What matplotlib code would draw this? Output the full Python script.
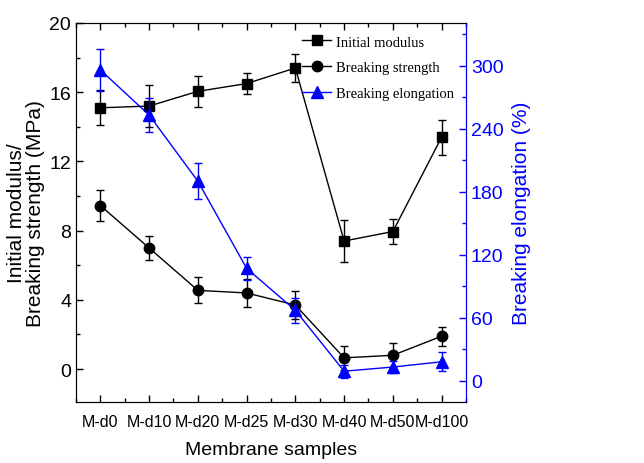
import matplotlib
matplotlib.use('Agg')
import matplotlib.pyplot as plt
from matplotlib.lines import Line2D
from matplotlib.ticker import MultipleLocator
import numpy as np

samples = ['M-d0', 'M-d10', 'M-d20', 'M-d25', 'M-d30', 'M-d40', 'M-d50', 'M-d100']

# left axis (MPa)
modulus = [15.1, 15.2, 16.05, 16.5, 17.4, 7.4, 7.95, 13.4]
modulus_err = [1.0, 1.2, 0.9, 0.6, 0.8, 1.2, 0.7, 1.0]
strength = [9.45, 7.0, 4.55, 4.4, 3.7, 0.65, 0.8, 1.9]
strength_err = [0.9, 0.7, 0.75, 0.8, 0.8, 0.7, 0.7, 0.55]

# right axis (%)
elongation = [296, 253, 190, 107, 67, 9, 13, 18]
elongation_err = [20, 16, 17, 11, 12, 6, 6, 9]

sans = ['Liberation Sans', 'DejaVu Sans']
serif = ['Liberation Serif', 'DejaVu Serif']
plt.rcParams['font.family'] = sans
plt.rcParams['xtick.direction'] = 'in'
plt.rcParams['ytick.direction'] = 'in'

x = np.arange(len(samples))

fig = plt.figure(figsize=(6.44, 4.64), dpi=100)
ax = fig.add_axes([0.118, 0.1315, 0.6056, 0.8168])
ax2 = ax.twinx()

ax.errorbar(x, modulus, yerr=modulus_err, color='black', marker='s', ms=6.5,
            lw=1, elinewidth=1, capsize=3, capthick=1)
ax.errorbar(x, strength, yerr=strength_err, color='black', marker='o', ms=7.5,
            lw=1, elinewidth=1, capsize=3, capthick=1)
ax2.errorbar(x, elongation, yerr=elongation_err, color='blue', marker='^', ms=8.5,
             lw=1, elinewidth=1, capsize=3, capthick=1)

ax.set_xlim(-0.5, 7.5)
ax.set_ylim(-1.9, 20)
ax2.set_ylim(-20.3, 340.7)

ax.set_xticks(x)
ax.set_xticklabels(samples)
ax.xaxis.set_minor_locator(MultipleLocator(0.5))
ax.yaxis.set_major_locator(MultipleLocator(4))
ax.yaxis.set_minor_locator(MultipleLocator(2))
ax2.yaxis.set_major_locator(MultipleLocator(60))
ax2.yaxis.set_minor_locator(MultipleLocator(30))

ax.tick_params(axis='y', which='major', labelsize=14, length=5, width=1)
ax.tick_params(axis='x', which='major', labelsize=11.5, length=5, width=1, pad=9)
ax.tick_params(axis='both', which='minor', length=3, width=1)
ax.tick_params(axis='x', top=True, which='both')
ax2.tick_params(axis='y', which='major', labelsize=14, length=5, width=1,
                colors='blue')
ax2.tick_params(axis='y', which='minor', length=3, width=1, colors='blue')
ax2.spines['right'].set_color('blue')

ax.set_xlabel('Membrane samples', fontsize=14, labelpad=8)
ax.set_ylabel('Initial modulus/\nBreaking strength (MPa)', fontsize=15,
              linespacing=1.0, labelpad=3)
ax2.set_ylabel('Breaking elongation (%)', fontsize=15, color='blue', labelpad=6)

handles = [Line2D([], [], color='black', marker='s', ms=6.5, lw=1),
           Line2D([], [], color='black', marker='o', ms=7.5, lw=1),
           Line2D([], [], color='blue', marker='^', ms=8.5, lw=1)]
ax.legend(handles, ['Initial modulus', 'Breaking strength', 'Breaking elongation'],
          loc='upper right', frameon=False, prop={'family': serif, 'size': 10.5},
          handlelength=2, borderaxespad=0.45, labelspacing=0.85, handletextpad=0.3)

fig.savefig('out.png', dpi=100)
